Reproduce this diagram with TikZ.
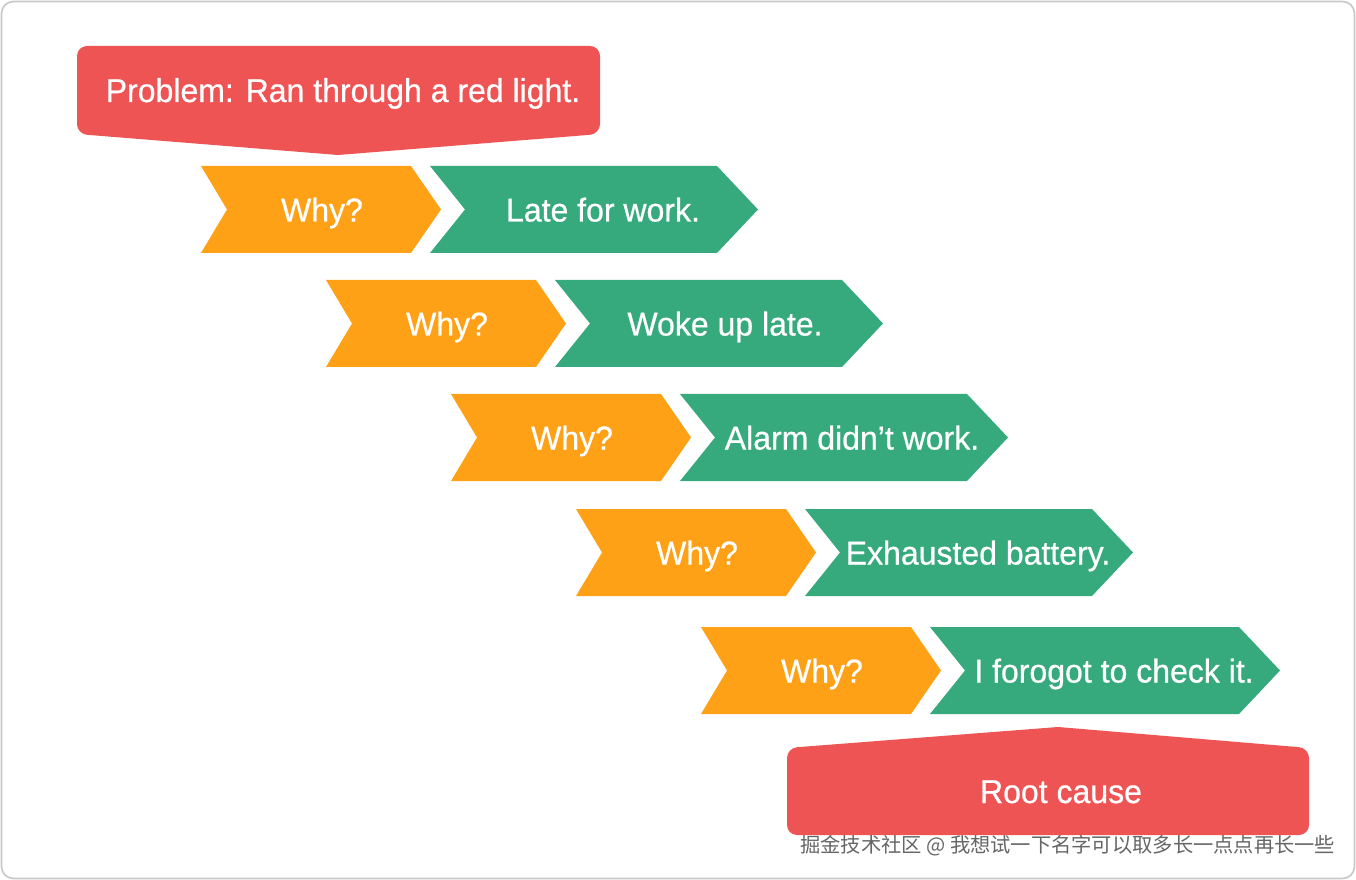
\documentclass[tikz,border=0pt]{standalone}
\usepackage{fontspec}
\setmainfont{Liberation Sans}
\newfontfamily\lblfont[FakeBold=0.6,FakeStretch=0.97]{Liberation Sans}
\newfontfamily\cjkfont{Noto Sans CJK SC}
\definecolor{redbox}{HTML}{EF5454}
\definecolor{orangebox}{HTML}{FFA117}
\definecolor{greenbox}{HTML}{37AA7D}
\definecolor{framegray}{HTML}{C8C8C8}
\definecolor{markgray}{HTML}{666666}
\tikzset{
  lbl/.style={text=white, font=\lblfont\fontsize{24.75pt}{28pt}\selectfont, inner sep=0pt, anchor=base},
  wmark/.style={anchor=base west, inner sep=0pt, font=\cjkfont\fontsize{15.2pt}{17pt}\selectfont},
}
\begin{document}
\begin{tikzpicture}[x=0.75pt,y=-0.75pt]
\useasboundingbox (0,0) rectangle (1356,880);
\fill[white] (0,0) rectangle (1356,880);
\draw[framegray, line width=1.2pt, rounded corners=9pt] (1.5,1.5) rectangle (1354.5,878.5);

% problem box
\fill[redbox] (338,155) [rounded corners=7.5pt] -- (77,134) -- (77,46) -- (600,46) -- (600,134) [sharp corners] -- cycle;
\node[lbl] (problem) at (343,102) {Problem: Ran through a red light.};

% chevrons
\foreach \k/\t/\gw/\wx/\txt in {0/166/0/603/Late for work.,1/280/0/725/Woke up late.,2/394/0/852/Alarm didn’t work.,3/509/0/978/Exhausted battery.,4/627/22/1114/I forogot to check it.}{
  \pgfmathsetmacro{\xo}{201+125*\k}
  \pgfmathsetmacro{\tb}{\t+87}
  \pgfmathsetmacro{\tm}{\t+43.5}
  \fill[orangebox] (\xo,\t) -- ({\xo+210},\t) -- ({\xo+240},\tm) -- ({\xo+210},\tb) -- (\xo,\tb) -- ({\xo+26},\tm) -- cycle;
  \fill[greenbox] ({\xo+229},\t) -- ({\xo+516+\gw},\t) -- ({\xo+557+\gw},\tm) -- ({\xo+516+\gw},\tb) -- ({\xo+229},\tb) -- ({\xo+264},\tm) -- cycle;
  \node[lbl] (why\k) at ({\xo+121},{\tm+12}) {Why?};
  \node[lbl] (ans\k) at (\wx,{\tm+12}) {\txt};
}

% root cause box
\fill[redbox] (1058,727) [rounded corners=7.5pt] -- (1309,748) -- (1309,835) -- (787,835) -- (787,748) [sharp corners] -- cycle;
\node[lbl] (root) at (1061,803) {Root cause};

% watermark
\node[wmark, text=white] (wmhalo) at (801,853) {掘金技术社区 @ 我想试一下名字可以取多长一点点再长一些};
\node[wmark, text=markgray] (wm) at (800,852) {掘金技术社区 @ 我想试一下名字可以取多长一点点再长一些};
\end{tikzpicture}
\end{document}
